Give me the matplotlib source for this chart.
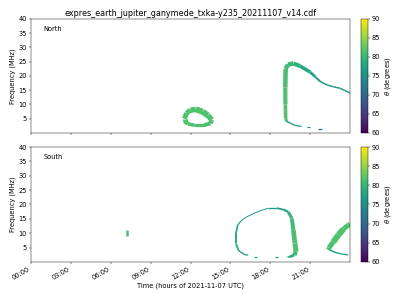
import numpy as np
import matplotlib
matplotlib.use('Agg')
import matplotlib.pyplot as plt
from matplotlib.collections import LineCollection
from matplotlib.colors import Normalize

# Data (time in hours of 2021-11-07, frequency in MHz, theta in degrees)
title = 'expres_earth_jupiter_ganymede_txka-y235_20211107_v14.cdf'
hour_ticks = [0, 3, 6, 9, 12, 15, 18, 21]
hour_labels = ['00:00', '03:00', '06:00', '09:00', '12:00', '15:00', '18:00', '21:00']
freq_ticks = [5, 10, 15, 20, 25, 30, 35, 40]
theta_ticks = [60, 65, 70, 75, 80, 85, 90]

# North: loop around noon
n_loop_t = [11.55, 11.7, 12.0, 12.4, 12.9, 13.3, 13.6, 13.5, 13.0, 12.3, 11.8, 11.55, 11.55]
n_loop_f = [5.0, 7.0, 8.0, 8.3, 7.5, 6.2, 4.6, 3.4, 2.7, 2.7, 3.2, 4.2, 5.0]
n_loop_th = [81.5] * 13

# North: large arc in the evening
n_arc_t = [19.26, 19.22, 19.16, 19.14, 19.13, 19.16, 19.34, 19.74, 20.24, 20.99, 21.37,
           21.75, 22.25, 22.75, 23.24, 23.62, 24.0]
n_arc_f = [3.9, 4.2, 5.25, 10.0, 16.0, 22.6, 24.0, 24.4, 23.5, 21.4, 19.8,
           18.1, 16.9, 16.2, 15.7, 14.9, 14.0]
n_arc_th = [80.5, 81, 81.5, 81.5, 81.5, 81, 80.5, 80, 79, 77.5, 77,
            76.5, 76.5, 76.5, 76.5, 76.5, 76.5]

# North: faint tail at low frequency
n_tail_t = [19.24, 19.49, 19.86, 20.37]
n_tail_f = [4.06, 3.5, 2.66, 2.31]
n_tail_th = [77, 76.5, 76, 76]
n_dash1_t = [20.74, 20.99]
n_dash1_f = [1.96, 1.96]
n_dash1_th = [74, 74]
n_dash2_t = [21.62, 21.92]
n_dash2_f = [1.5, 1.5]
n_dash2_th = [70.5, 70.5]

# South: small burst in the morning
s_blob_t = [7.25, 7.25]
s_blob_f = [9.1, 11.3]
s_blob_th = [81.5, 81.5]

# South: large loop
s_loop_t = [15.6, 15.42, 15.42, 15.55, 15.8, 16.23, 16.85, 17.36, 17.86, 18.49, 18.98,
            19.36, 19.62, 19.74, 19.86, 19.94, 19.81, 19.49, 19.3]
s_loop_f = [4.16, 6.48, 9.94, 12.82, 14.31, 15.7, 17.08, 18.02, 18.71, 18.71, 18.26,
            17.43, 15.14, 11.09, 6.48, 3.57, 2.43, 1.84, 1.7]
s_loop_th = [80, 79.5, 78.5, 77.5, 77, 76.5, 76.5, 76.5, 76.5, 76.5, 77,
             79, 80.5, 81, 81.5, 81.5, 80, 77, 76.5]
s_foot_t = [15.6, 15.73, 16.1, 16.35]
s_foot_f = [4.16, 3.57, 2.5, 2.43]
s_foot_th = [78, 77, 76.5, 76.5]
s_dash1_t = [16.8, 16.98]
s_dash1_f = [1.63, 1.63]
s_dash1_th = [76.5, 76.5]
s_dash2_t = [18.36, 18.62]
s_dash2_f = [1.63, 1.63]
s_dash2_th = [76.5, 76.5]

# South: wedge at end of day
s_wedge_t = [22.35, 22.42, 22.75, 23.12, 23.5, 23.87, 24.0]
s_wedge_f = [4.3, 4.95, 7.03, 9.36, 11.43, 12.82, 13.17]
s_wedge_th = [81.5] * 7
s_branch_t = [22.4, 22.5, 22.87, 23.38, 23.87]
s_branch_f = [4.5, 4.16, 3.36, 2.77, 2.43]
s_branch_th = [80, 79, 78, 77, 76.5]

cmap = plt.get_cmap('viridis')
norm = Normalize(vmin=60, vmax=90)
PX = 72.0 / 40  # points per pixel

plt.rcParams['font.size'] = 12
plt.rcParams['axes.titlesize'] = 14.5


def draw(ax, t, f, th, widths):
	pts = np.column_stack([t, f])
	segs = np.stack([pts[:-1], pts[1:]], axis=1)
	th = np.asarray(th, dtype=float)
	mid = 0.5 * (th[:-1] + th[1:])
	w = np.interp(np.arange(len(segs)), np.linspace(0, len(segs) - 1, len(widths)), widths)
	lc = LineCollection(segs, colors=cmap(norm(mid)), linewidths=w * PX, capstyle='butt', joinstyle='round')
	ax.add_collection(lc)


fig = plt.figure(figsize=(10, 7.5), dpi=40)
ax1 = fig.add_axes([0.0775, 0.5567, 0.7975, 0.38])
ax2 = fig.add_axes([0.0775, 0.1267, 0.7975, 0.3833], sharex=ax1)
cax1 = fig.add_axes([0.9025, 0.5567, 0.0175, 0.38])
cax2 = fig.add_axes([0.9025, 0.1267, 0.0175, 0.3833])

draw(ax1, n_loop_t, n_loop_f, n_loop_th, [5, 5, 6, 6, 5, 4, 3, 4, 5])
draw(ax1, n_arc_t, n_arc_f, n_arc_th, [2.5, 3, 4, 4.5, 4.5, 4.5, 4, 3, 2, 1.5, 1.5, 1.5, 1.5])
draw(ax1, n_tail_t, n_tail_f, n_tail_th, [1.5, 1.2])
draw(ax1, n_dash1_t, n_dash1_f, n_dash1_th, [1.2])
draw(ax1, n_dash2_t, n_dash2_f, n_dash2_th, [1.2])

draw(ax2, s_blob_t, s_blob_f, s_blob_th, [2.5])
draw(ax2, s_loop_t, s_loop_f, s_loop_th, [2, 2, 1.5, 1, 1, 1, 1, 1.5, 2, 3, 4, 5, 5, 3, 1.5])
draw(ax2, s_foot_t, s_foot_f, s_foot_th, [1.5, 1.2])
draw(ax2, s_dash1_t, s_dash1_f, s_dash1_th, [1.2])
draw(ax2, s_dash2_t, s_dash2_f, s_dash2_th, [1.2])
draw(ax2, s_wedge_t, s_wedge_f, s_wedge_th, [4, 5, 6, 6, 5, 5])
draw(ax2, s_branch_t, s_branch_f, s_branch_th, [2, 1.5, 1.2])

for ax, name, cax in ((ax1, 'North', cax1), (ax2, 'South', cax2)):
	ax.set_xlim(0, 24)
	ax.set_ylim(0, 40)
	ax.set_yticks(freq_ticks)
	ax.set_ylabel('Frequency (MHz)')
	ax.text(0.04, 0.91, name, transform=ax.transAxes, ha='left', va='center')
	sm = plt.cm.ScalarMappable(norm=norm, cmap=cmap)
	cb = fig.colorbar(sm, cax=cax, ticks=theta_ticks)
	cb.set_label(r'$\theta$ (degrees)')

ax1.set_xticks(hour_ticks)
plt.setp(ax1.get_xticklabels(), visible=False)
ax2.set_xticklabels(hour_labels, rotation=30, ha='right')
ax2.set_xlabel('Time (hours of 2021-11-07 UTC)')
ax1.set_title(title)

fig.savefig('out.png', dpi=40)
